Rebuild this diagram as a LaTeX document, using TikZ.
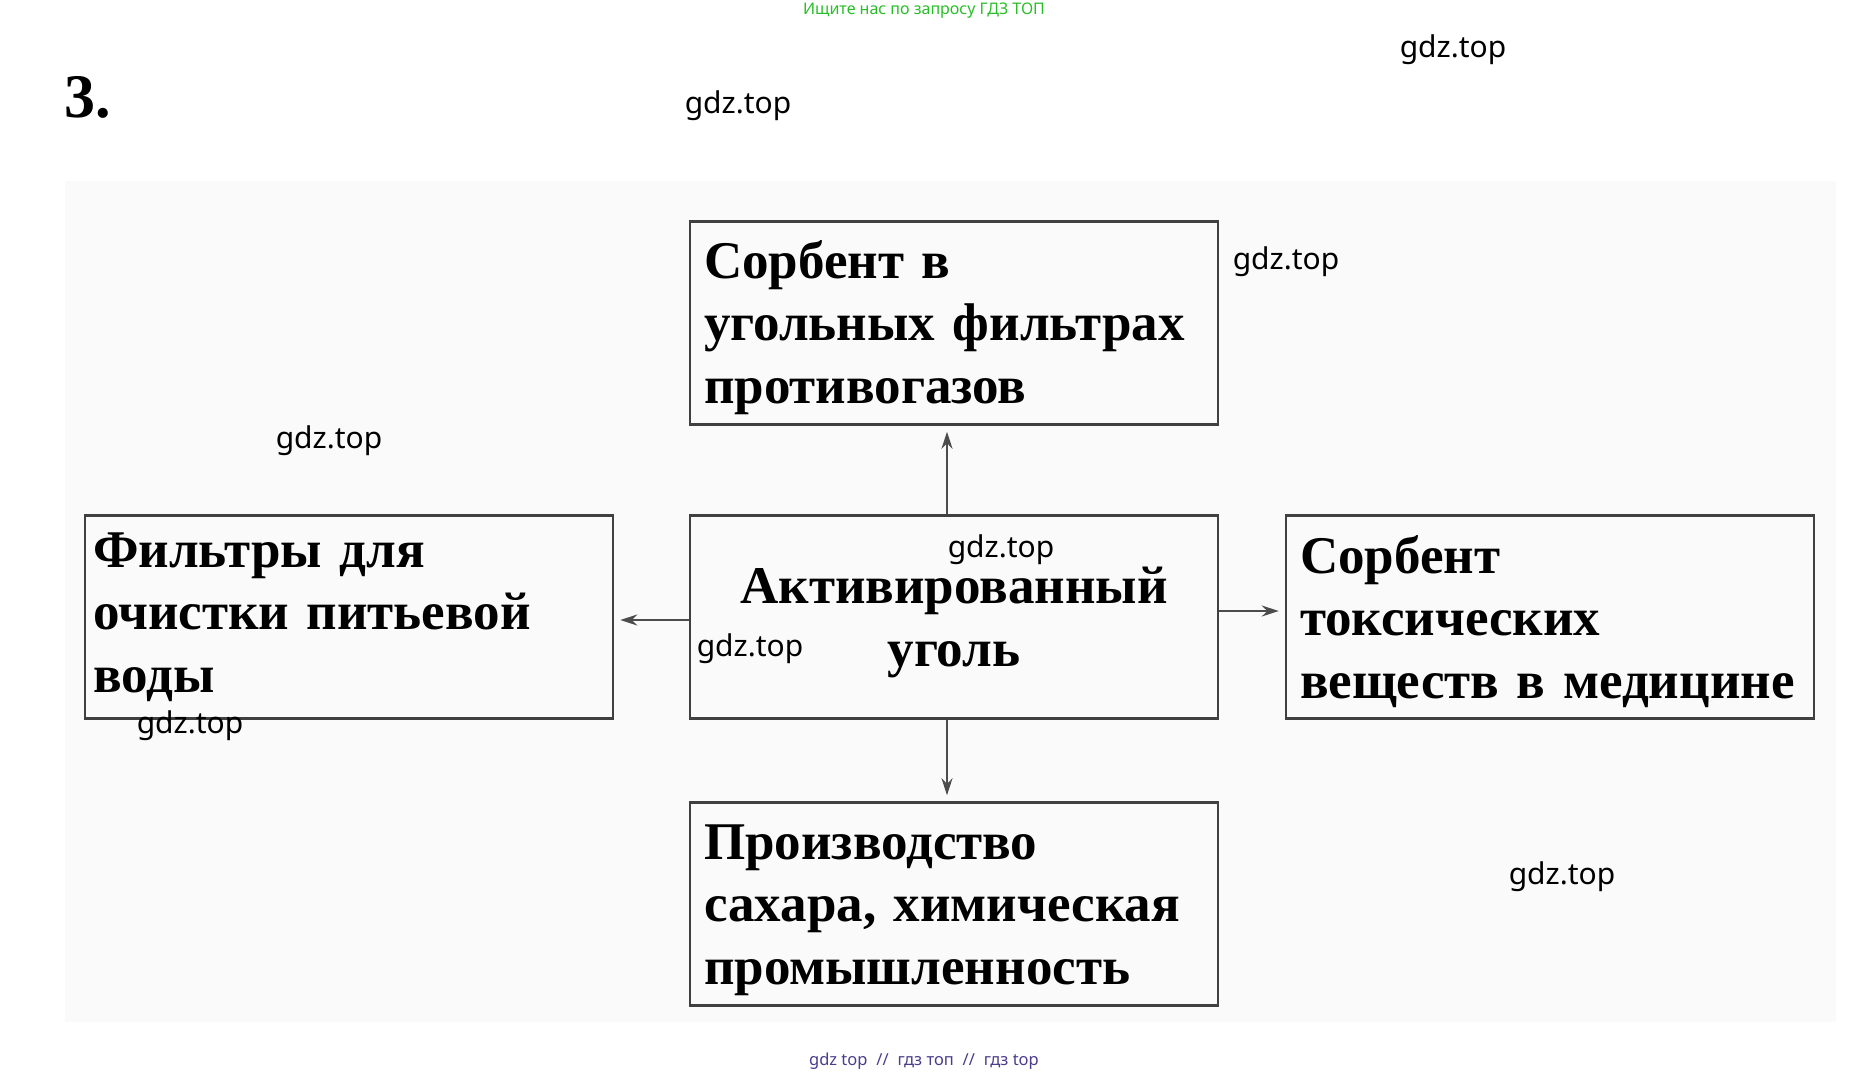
\documentclass[tikz,border=0pt]{standalone}
\usepackage{fontspec}
\setmainfont{Liberation Serif}
\newfontfamily\wmfont{Noto Sans}
\usetikzlibrary{arrows.meta}
\definecolor{wmgreen}{RGB}{40,190,40}
\definecolor{wmviolet}{RGB}{75,60,140}
\tikzset{
  box/.style={draw=black!75, line width=2.5pt, minimum width=528pt, minimum height=203pt,
    text width=500pt, inner xsep=14pt, align=left,
    font=\fontsize{53}{62.6}\selectfont\bfseries,
    execute at begin node={\rule{0pt}{#1}}},
  box/.default=47pt,
  arr/.style={-{Stealth[length=17pt,width=11pt]}, line width=1.6pt, draw=black!70, shorten >=6pt},
  wm/.style={font=\wmfont\fontsize{30}{36}\selectfont, text=black}
}

\begin{document}
\begin{tikzpicture}[x=1pt,y=-1pt]
\useasboundingbox (0,0) rectangle (1851,1077);
\fill[black!2] (65,181) rectangle (1836,1022);
\node (num) at (88,97) {\fontsize{62}{70}\selectfont\bfseries 3.};
\node[text=wmgreen, font=\wmfont\fontsize{16}{18}\selectfont] (hdr) at (924,11) {Ищите нас по запросу ГДЗ ТОП};
\node[text=wmviolet, font=\wmfont\fontsize{16.5}{18}\selectfont] (ftr) at (924,1061) {gdz top \;//\; гдз топ \;//\; гдз top};

\node[box] (n) at (954,323) {Сорбент в\\угольных фильтрах\\противогазов};
\node[box=29pt, inner xsep=8pt, text width=512pt] (w) at (349,617) {Фильтры для\\очистки питьевой\\воды};
\node[box, align=center] (c) at (954,617) {Активированный\\уголь};
\node[box] (e) at (1550,617) {Сорбент\\токсических\\веществ в медицине};
\node[box] (s) at (954,904) {Производство\\сахара, химическая\\промышленность};

\draw[arr] ([xshift=-7pt]c.north) -- ([xshift=-7pt]n.south);
\draw[arr] ([xshift=-7pt]c.south) -- ([xshift=-7pt]s.north);
\draw[arr] ([yshift=-3pt]c.west) -- ([yshift=-3pt]w.east);
\draw[arr] ([yshift=6pt]c.east) -- ([yshift=6pt]e.west);

\node[wm] (g1) at (1453,50) {gdz.top};
\node[wm] (g2) at (738,106) {gdz.top};
\node[wm] (g3) at (1286,262) {gdz.top};
\node[wm] (g4) at (329,441) {gdz.top};
\node[wm] (g5) at (1001,550) {gdz.top};
\node[wm] (g6) at (750,649) {gdz.top};
\node[wm] (g7) at (190,726) {gdz.top};
\node[wm] (g8) at (1562,877) {gdz.top};
\end{tikzpicture}
\end{document}
